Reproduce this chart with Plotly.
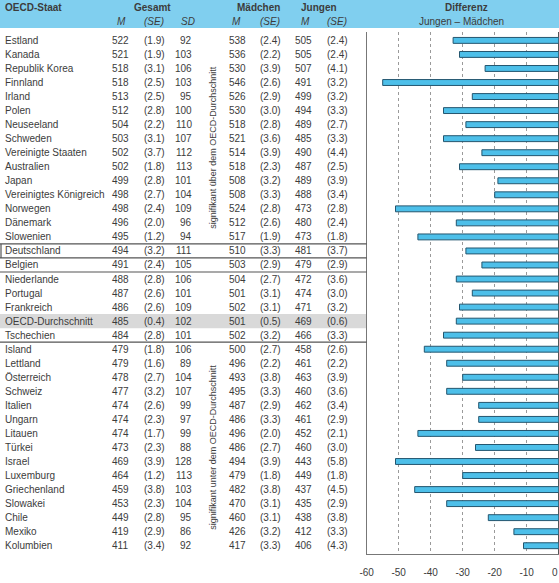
import plotly.graph_objects as go

countries = ["Estland", "Kanada", "Republik Korea", "Finnland", "Irland", "Polen", "Neuseeland",
             "Schweden", "Vereinigte Staaten", "Australien", "Japan", "Vereinigtes Königreich",
             "Norwegen", "Dänemark", "Slowenien", "Deutschland", "Belgien", "Niederlande",
             "Portugal", "Frankreich", "OECD-Durchschnitt", "Tschechien", "Island", "Lettland",
             "Österreich", "Schweiz", "Italien", "Ungarn", "Litauen", "Türkei", "Israel",
             "Luxemburg", "Griechenland", "Slowakei", "Chile", "Mexiko", "Kolumbien"]
gesamt_m = [522, 521, 518, 518, 513, 512, 504, 503, 502, 502, 499, 498, 498, 496, 495, 494, 491,
            488, 487, 486, 485, 484, 479, 479, 478, 477, 474, 474, 474, 473, 469, 464, 459, 453,
            449, 419, 411]
gesamt_se = ["1.9", "1.9", "3.1", "2.5", "2.5", "2.8", "2.2", "3.1", "3.7", "1.8", "2.8", "2.7",
             "2.4", "2.0", "1.2", "3.2", "2.4", "2.8", "2.6", "2.6", "0.4", "2.8", "1.8", "1.6",
             "2.7", "3.2", "2.6", "2.3", "1.7", "2.3", "3.9", "1.2", "3.8", "2.3", "2.8", "2.9", "3.4"]
gesamt_sd = [92, 103, 106, 103, 95, 100, 110, 107, 112, 113, 101, 104, 109, 96, 94, 111, 105, 106,
             101, 109, 102, 101, 106, 89, 104, 107, 99, 97, 99, 88, 128, 113, 103, 104, 95, 86, 92]
girls_m = [538, 536, 530, 546, 526, 530, 518, 521, 514, 518, 508, 508, 524, 512, 517, 510, 503,
           504, 501, 502, 501, 502, 500, 496, 493, 495, 487, 486, 496, 486, 494, 479, 482, 470,
           460, 426, 417]
girls_se = ["2.4", "2.2", "3.9", "2.6", "2.9", "3.0", "2.8", "3.6", "3.9", "2.3", "3.2", "3.3",
            "2.8", "2.6", "1.9", "3.3", "2.9", "2.7", "3.1", "3.1", "0.5", "3.2", "2.7", "2.2",
            "3.8", "3.3", "2.9", "3.3", "2.0", "2.7", "3.9", "1.8", "3.8", "3.1", "3.1", "3.2", "3.3"]
boys_m = [505, 505, 507, 491, 499, 494, 489, 485, 490, 487, 489, 488, 473, 480, 473, 481, 479,
          472, 474, 471, 469, 466, 458, 461, 463, 460, 462, 461, 452, 460, 443, 449, 437, 435,
          438, 412, 406]
boys_se = ["2.4", "2.4", "4.1", "3.2", "3.2", "3.3", "2.7", "3.3", "4.4", "2.5", "3.9", "3.4",
           "2.8", "2.4", "1.8", "3.7", "2.9", "3.6", "3.0", "3.2", "0.6", "3.3", "2.6", "2.2",
           "3.9", "3.6", "3.4", "2.9", "2.1", "3.0", "5.8", "1.8", "4.5", "2.9", "3.8", "3.3", "4.3"]
diff = [-33, -31, -23, -55, -27, -36, -29, -36, -24, -31, -19, -20, -51, -32, -44, -29, -24, -32,
        -27, -31, -32, -36, -42, -35, -30, -35, -25, -25, -44, -26, -51, -30, -45, -35, -22, -14, -11]
x_ticks = [-60, -50, -40, -30, -20, -10, 0]

W, H = 559, 583
FONT = "Liberation Sans, Arial, sans-serif"
TXT = "#3c3c3c"
AXX = 366.7  # pixel x of chart's left axis


def px(x):
    return x / W


def py(y):
    return 1 - y / H


rows = list(range(len(countries)))

fig = go.Figure()
fig.add_trace(go.Bar(
    x=diff, y=rows, orientation="h", width=0.42,
    marker=dict(color="#4dbfe9", line=dict(color="#24566f", width=1)),
    showlegend=False, hoverinfo="skip"))

ann = []


def add(text, x, y, yref="y", anchor="center", size=10, bold=False, italic=False, angle=0, yanchor="middle"):
    t = text
    if bold:
        t = "<b>" + t + "</b>"
    if italic:
        t = "<i>" + t + "</i>"
    ann.append(dict(text=t, x=px(x), xref="paper", y=y, yref=yref, xanchor=anchor,
                    yanchor=yanchor, showarrow=False, textangle=angle,
                    font=dict(family=FONT, size=size, color=TXT)))


for i in rows:
    add(countries[i], 2.7, i, anchor="left")
    add(str(gesamt_m[i]), 120.2, i)
    add("(" + gesamt_se[i] + ")", 154.3, i)
    add(str(gesamt_sd[i]), 193.9, i, anchor="right")
    add(str(girls_m[i]), 237.0, i)
    add("(" + girls_se[i] + ")", 270.3, i)
    add(str(boys_m[i]), 303.3, i)
    add("(" + boys_se[i] + ")", 337.3, i)

# headers
add("OECD-Staat", 3, py(7.6), yref="paper", anchor="left", bold=True)
add("Gesamt", 152.5, py(7.6), yref="paper", bold=True)
add("Mädchen", 258.5, py(7.6), yref="paper", bold=True)
add("Jungen", 318.8, py(7.6), yref="paper", bold=True)
add("Differenz", 466.3, py(7.6), yref="paper", bold=True)
add("M", 121.7, py(21.8), yref="paper", italic=True)
add("(SE)", 153.8, py(21.8), yref="paper", italic=True)
add("SD", 188.0, py(21.8), yref="paper", italic=True)
add("M", 236.7, py(21.8), yref="paper", italic=True)
add("(SE)", 270.0, py(21.8), yref="paper", italic=True)
add("M", 305.0, py(21.8), yref="paper", italic=True)
add("(SE)", 336.7, py(21.8), yref="paper", italic=True)
add("Jungen – Mädchen", 461.3, py(21.8), yref="paper")

add("signifikant über dem OECD-Durchschnitt", 212.3, py(147.5), yref="paper", size=9, angle=-90)
add("signifikant unter dem OECD-Durchschnitt", 212.3, py(447.5), yref="paper", size=9, angle=-90)

# the "0" tick sits right at the page edge; plotly drops it, so draw it at x=0 on the axis,
# anchored to its right so it stays inside the page
ann.append(dict(text="0", x=0, xref="x", y=py(572.5), yref="paper", xanchor="right",
                yanchor="middle", showarrow=False, xshift=1,
                font=dict(family=FONT, size=10, color=TXT)))

shapes = [
    dict(type="rect", xref="paper", yref="paper", x0=0, x1=1, y0=py(28), y1=1,
         fillcolor="#80cfef", line=dict(width=0), layer="below"),
    dict(type="rect", xref="paper", yref="y", x0=0, x1=px(AXX), y0=19.5, y1=20.5,
         fillcolor="#d9d9d9", line=dict(width=0), layer="below"),
]
for yl in [14.5, 15.5, 16.5, 21.5]:
    shapes.append(dict(type="line", xref="paper", yref="y", x0=0, x1=px(AXX), y0=yl, y1=yl,
                       line=dict(color="#555555", width=1.2)))
shapes.append(dict(type="line", xref="paper", yref="y", x0=px(1), x1=px(1), y0=14.5, y1=15.5,
                   line=dict(color="#555555", width=1.2)))

fig.update_layout(
    width=W, height=H,
    margin=dict(l=0, r=0, t=0, b=0),
    paper_bgcolor="white", plot_bgcolor="white",
    font=dict(family=FONT, size=10, color=TXT),
    annotations=ann, shapes=shapes,
    bargap=0.5,
    xaxis=dict(domain=[px(AXX), px(558.7)], range=[-60, 0], tickvals=x_ticks,
               ticktext=[str(v) for v in x_ticks], showgrid=True, gridcolor="#9a9a9a",
               griddash="dot", gridwidth=1, zeroline=True, zerolinecolor="#555555",
               zerolinewidth=1.2, showline=True, linecolor="#777777", linewidth=1.2,
               ticks="", ticklabelstandoff=9, tickfont=dict(size=10, color=TXT),
               automargin=False, fixedrange=True),
    yaxis=dict(domain=[py(554), py(31.7)], range=[36.59, -0.62], showticklabels=False,
               showgrid=False, zeroline=False, showline=True, linecolor="#777777",
               linewidth=1.2, ticks="", automargin=False, fixedrange=True),
)

fig.write_html("out.html", config={"displayModeBar": False, "staticPlot": True})

# remove the browser's default body margin so the figure sits at the page's top-left corner
with open("out.html", "r", encoding="utf-8") as f:
    html = f.read()
html = html.replace("<body>", '<body style="margin:0;padding:0;overflow:hidden">', 1)
with open("out.html", "w", encoding="utf-8") as f:
    f.write(html)
